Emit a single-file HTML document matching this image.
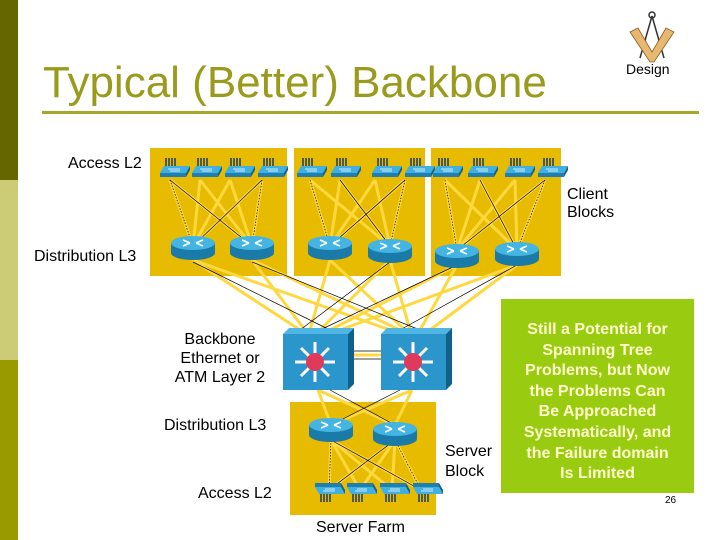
<!DOCTYPE html>
<html><head><meta charset="utf-8"><style>
body{margin:0;width:720px;height:540px;overflow:hidden;background:#fff;font-family:"Liberation Sans",sans-serif;}
.t{position:absolute;font-family:"Liberation Sans",sans-serif;color:#000;white-space:nowrap;}
</style></head><body>
<svg width="720" height="540" style="position:absolute;left:0;top:0" xmlns="http://www.w3.org/2000/svg">
<defs>
<g id="sw">
 <path d="M6,-10 v8 M9,-10 v8 M12,-10 v8 M15,-10 v8" stroke="#1a3a6a" stroke-width="1.5"/>
 <polygon points="4,-2 30,-2 26,5 0,5" fill="#3fb0e0"/>
 <polygon points="0,5 26,5 26,9 0,9" fill="#1e7fb0"/>
 <polygon points="26,5 30,-2 30,2 26,9" fill="#16608a"/>
 <path d="M8,1 h12 M10,3 h10" stroke="#fff" stroke-width="0.8"/>
</g>
<g id="rt">
 <rect x="-22" y="0" width="44" height="10" fill="#1a7aa8"/>
 <ellipse cx="0" cy="10" rx="22" ry="7" fill="#1a7aa8"/>
 <ellipse cx="0" cy="0" rx="22" ry="7" fill="#44b4e2"/>
 <path d="M-10,-3 l7,3 M10,-3 l-7,3 M-10,3 l7,-3 M10,3 l-7,-3" stroke="#fff" stroke-width="1.6"/>
</g>
<g id="l3">
 <polygon points="0,6 6,0 71,0 65,6" fill="#4fb6e4"/>
 <polygon points="65,6 71,0 71,56 65,62" fill="#10608c"/>
 <rect x="0" y="6" width="65" height="56" fill="#2a96cc"/>
 <g stroke="#fff" stroke-width="3">
  <path d="M32,14 v40 M12,34 h40 M18,20 l28,28 M46,20 l-28,28"/>
 </g>
 <circle cx="32" cy="34" r="9" fill="#e03a5a"/>
</g>
</defs>
<rect x="0" y="0" width="18" height="180" fill="#666600"/>
<rect x="0" y="180" width="18" height="180" fill="#cccc77"/>
<rect x="0" y="360" width="18" height="180" fill="#999900"/>
<rect x="42" y="111" width="657" height="3" fill="#a6a62a"/>
<rect x="150" y="148" width="137" height="128" fill="#e6bb00"/>
<rect x="294" y="148" width="131" height="128" fill="#e6bb00"/>
<rect x="431" y="148" width="130" height="128" fill="#e6bb00"/>
<rect x="290" y="402" width="146" height="113" fill="#e6bb00"/>
<g stroke="#ffd840" stroke-width="3">
 <path d="M170,180 L193,246 M200,180 L193,246 M230,180 L193,246 M262,180 L193,246 M170,180 L252,246 M200,180 L252,246 M230,180 L252,246 M262,180 L252,246"/>
 <path d="M310,180 L330,246 M340,180 L330,246 M375,180 L330,246 M405,180 L330,246 M310,180 L390,246 M340,180 L390,246 M375,180 L390,246 M405,180 L390,246"/>
 <path d="M445,180 L457,250 M480,180 L457,250 M515,180 L457,250 M545,180 L457,250 M445,180 L517,250 M480,180 L517,250 M515,180 L517,250 M545,180 L517,250"/>
 <path d="M331,440 L329,490 M331,440 L360,490 M331,440 L392,490 M331,440 L421,490 M395,440 L329,490 M395,440 L360,490 M395,440 L392,490 M395,440 L421,490"/>
 <path d="M193,260 L300,330 M252,260 L305,330 M330,260 L310,330 M390,260 L320,330 M457,265 L330,330 M517,265 L340,330"/>
 <path d="M193,260 L390,330 M252,260 L400,330 M330,260 L405,330 M390,260 L410,330 M457,265 L420,330 M517,265 L430,330"/>
 <path d="M318,390 L331,425 M318,390 L395,425 M412,390 L331,425 M412,390 L395,425"/>
 <path d="M354,355 h28"/>
</g>
<g stroke="#000" stroke-width="0.7">
 <path d="M170,180 L252,246 M262,180 L193,246 M340,180 L390,246 M405,180 L330,246 M480,180 L517,250 M545,180 L457,250"/>
 <path d="M193,262 L330,330 M252,262 L420,330 M390,262 L300,330 M517,265 L400,330 M457,265 L320,330"/>
 <path d="M330,390 L395,425 M400,390 L331,425 M331,440 L421,490 M395,440 L329,490 M354,351 h28 M354,359 h28"/>
</g>
<g stroke="#000" stroke-width="0.7" stroke-dasharray="1.5,1.5">
 <path d="M170,180 L193,246 M262,180 L252,246 M310,180 L330,246 M405,180 L390,246 M445,180 L457,250 M545,180 L517,250 M331,440 L329,490 M395,440 L421,490"/>
</g>
<use href="#sw" x="160" y="168"/><use href="#sw" x="192" y="168"/><use href="#sw" x="225" y="168"/><use href="#sw" x="258" y="168"/>
<use href="#sw" x="297" y="168"/><use href="#sw" x="331" y="168"/><use href="#sw" x="372" y="168"/><use href="#sw" x="405" y="168"/>
<use href="#sw" x="433" y="168"/><use href="#sw" x="468" y="168"/><use href="#sw" x="505" y="168"/><use href="#sw" x="538" y="168"/>
<use href="#rt" x="193" y="243"/><use href="#rt" x="252" y="243"/>
<use href="#rt" x="330" y="243"/><use href="#rt" x="390" y="246"/>
<use href="#rt" x="457" y="251"/><use href="#rt" x="517" y="249"/>
<use href="#rt" x="331" y="425"/><use href="#rt" x="395" y="429"/>
<g transform="translate(0,990) scale(1,-1)">
<use href="#sw" x="315" y="498"/><use href="#sw" x="347" y="498"/><use href="#sw" x="380" y="498"/><use href="#sw" x="413" y="498"/>
</g>
<use href="#l3" x="283" y="328"/>
<use href="#l3" x="381" y="328"/>
<g stroke="#333" stroke-width="1.5" fill="none">
 <path d="M652,16 L640,58 M652,16 L664,58"/>
 <circle cx="652" cy="15" r="3"/>
</g>
<polygon points="630,32 638,28 652,52 666,28 674,32 654,62 650,62" fill="#e8b870" stroke="#8a5a20" stroke-width="0.8"/>
<rect x="501" y="299" width="193" height="194" fill="#99cc11"/>
</svg>
<div class="t" style="left:43px;top:58px;font-size:44px;color:#9a9a1c;">Typical (Better) Backbone</div>
<div class="t" style="left:626px;top:61px;font-size:14px;">Design</div>
<div class="t" style="left:68px;top:155px;font-size:16px;">Access L2</div>
<div class="t" style="left:567px;top:186px;font-size:16px;line-height:18px;">Client<br>Blocks</div>
<div class="t" style="left:34px;top:248px;font-size:16px;">Distribution L3</div>
<div class="t" style="left:165px;top:330px;width:110px;text-align:center;font-size:16px;line-height:19px;">Backbone<br>Ethernet or<br>ATM Layer 2</div>
<div class="t" style="left:164px;top:417px;font-size:16px;">Distribution L3</div>
<div class="t" style="left:445px;top:442px;font-size:16px;line-height:20px;">Server<br>Block</div>
<div class="t" style="left:198px;top:485px;font-size:16px;">Access L2</div>
<div class="t" style="left:316px;top:519px;font-size:16px;">Server Farm</div>
<div class="t" style="left:501px;top:320px;width:193px;text-align:center;font-size:16px;font-weight:bold;line-height:20.6px;color:#ffffcc;">Still a Potential for<br>Spanning Tree<br>Problems, but Now<br>the Problems Can<br>Be Approached<br>Systematically, and<br>the Failure domain<br>Is Limited</div>
<div class="t" style="left:665px;top:495px;font-size:10px;">26</div>
</body></html>
